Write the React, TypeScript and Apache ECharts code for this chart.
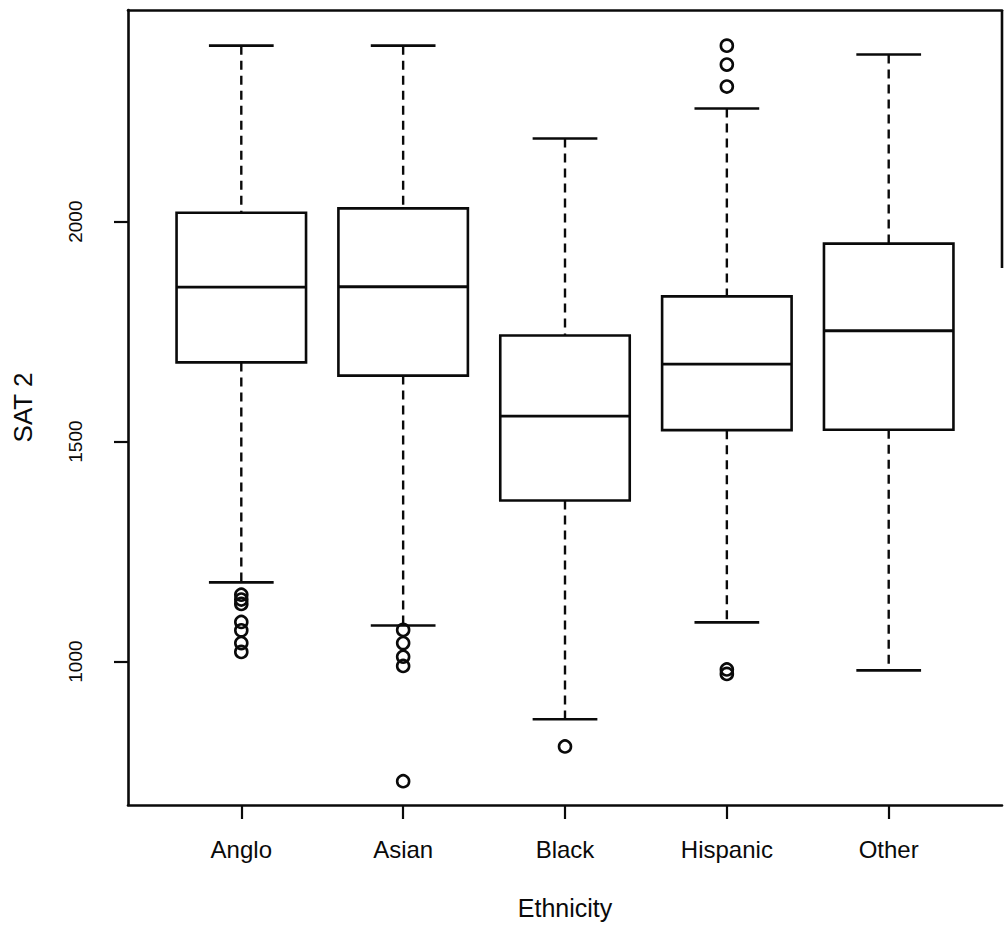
import React, { useEffect, useRef } from "react";
import * as echarts from "echarts";

// Groups on the horizontal axis
const categories = ["Anglo", "Asian", "Black", "Hispanic", "Other"];

// Five-number summaries per group (SAT 2 score)
const lowerWhisker = [1180, 1082, 869, 1089, 980];
const firstQuartile = [1680, 1650, 1366, 1526, 1527];
const medians = [1851, 1852, 1558, 1676, 1752];
const thirdQuartile = [2020, 2030, 1741, 1830, 1950];
const upperWhisker = [2400, 2400, 2189, 2257, 2380];

// Points beyond the whiskers
const outliersAnglo = [1152, 1141, 1131, 1090, 1071, 1042, 1022];
const outliersAsian = [1072, 1042, 1011, 990, 728];
const outliersBlack = [807];
const outliersHispanic = [2400, 2357, 2307, 982, 972];
const outliersOther: number[] = [];

const yTicks = [1000, 1500, 2000];
const yMin = 674;
const yMax = 2481;

const FONT = "'Liberation Sans', Arial, Helvetica, sans-serif";
const INK = "#0a0a0a";

export default function App() {
  const ref = useRef<HTMLDivElement>(null);

  useEffect(() => {
    document.body.style.margin = "0";
    if (!ref.current) return;
    const chart = echarts.init(ref.current, null, { renderer: "svg" });

    const boxData = categories.map((_, i) => [
      i + 1,
      lowerWhisker[i],
      firstQuartile[i],
      medians[i],
      thirdQuartile[i],
      upperWhisker[i],
    ]);

    const outlierGroups = [
      outliersAnglo,
      outliersAsian,
      outliersBlack,
      outliersHispanic,
      outliersOther,
    ];
    const outlierData: number[][] = [];
    outlierGroups.forEach((vals, i) => {
      vals.forEach((v) => outlierData.push([i + 1, v]));
    });

    const positions = categories.map((_, i) => i + 1);

    chart.setOption({
      animation: false,
      backgroundColor: "#fff",
      grid: { left: 128, right: 3, top: 10, bottom: 126 },
      xAxis: [
        {
          type: "value",
          min: 0.3,
          max: 5.7,
          position: "bottom",
          name: "Ethnicity",
          nameLocation: "middle",
          nameGap: 90,
          nameTextStyle: { fontFamily: FONT, fontSize: 25, color: INK },
          axisLine: { show: true, lineStyle: { color: INK, width: 2.6 } },
          axisTick: {
            show: true,
            customValues: positions,
            length: 14,
            lineStyle: { color: INK, width: 2.2 },
          },
          axisLabel: {
            show: true,
            customValues: positions,
            formatter: (v: number) => categories[Math.round(v) - 1] ?? "",
            fontFamily: FONT,
            fontSize: 24,
            color: INK,
            margin: 32,
          },
          splitLine: { show: false },
        },
        {
          type: "value",
          min: 0.3,
          max: 5.7,
          position: "top",
          axisLine: { show: true, lineStyle: { color: INK, width: 2.6 } },
          axisTick: { show: false },
          axisLabel: { show: false },
          splitLine: { show: false },
        },
      ],
      yAxis: {
        type: "value",
        min: yMin,
        max: yMax,
        name: "SAT 2",
        nameLocation: "middle",
        nameRotate: 90,
        nameGap: 92,
        nameTextStyle: { fontFamily: FONT, fontSize: 26, color: INK },
        axisLine: { show: true, lineStyle: { color: INK, width: 2.6 } },
        axisTick: {
          show: true,
          customValues: yTicks,
          length: 14,
          lineStyle: { color: INK, width: 2.2 },
        },
        axisLabel: {
          show: true,
          customValues: yTicks,
          formatter: (v: number) => String(v),
          rotate: 90,
          fontFamily: FONT,
          fontSize: 19,
          color: INK,
          margin: 43,
        },
        splitLine: { show: false },
      },
      graphic: [
        {
          type: "line",
          shape: { x1: 1002, y1: 10, x2: 1002, y2: 268 },
          style: { stroke: INK, lineWidth: 2.6 },
        },
      ],
      series: [
        {
          type: "custom",
          xAxisIndex: 0,
          data: boxData,
          renderItem: (_params: any, api: any) => {
            const x = api.value(0);
            const lo = api.coord([x, api.value(1)]);
            const q1 = api.coord([x, api.value(2)]);
            const md = api.coord([x, api.value(3)]);
            const q3 = api.coord([x, api.value(4)]);
            const hi = api.coord([x, api.value(5)]);
            const cx = lo[0];
            const halfBox = api.size([0.4, 0])[0];
            const halfCap = api.size([0.2, 0])[0];
            const solid = { stroke: INK, lineWidth: 2.6, fill: null };
            const dashed = { stroke: INK, lineWidth: 2.4, lineDash: [9, 6] };
            return {
              type: "group",
              children: [
                { type: "line", shape: { x1: cx, y1: hi[1], x2: cx, y2: q3[1] }, style: dashed },
                { type: "line", shape: { x1: cx, y1: q1[1], x2: cx, y2: lo[1] }, style: dashed },
                { type: "line", shape: { x1: cx - halfCap, y1: hi[1], x2: cx + halfCap, y2: hi[1] }, style: solid },
                { type: "line", shape: { x1: cx - halfCap, y1: lo[1], x2: cx + halfCap, y2: lo[1] }, style: solid },
                {
                  type: "rect",
                  shape: { x: cx - halfBox, y: q3[1], width: halfBox * 2, height: q1[1] - q3[1] },
                  style: { stroke: INK, lineWidth: 2.6, fill: "#fff" },
                },
                { type: "line", shape: { x1: cx - halfBox, y1: md[1], x2: cx + halfBox, y2: md[1] }, style: { stroke: INK, lineWidth: 2.8 } },
              ],
            };
          },
          z: 2,
        },
        {
          type: "scatter",
          xAxisIndex: 0,
          data: outlierData,
          symbol: "circle",
          symbolSize: 12,
          itemStyle: { color: "rgba(0,0,0,0)", borderColor: INK, borderWidth: 2.6, opacity: 1 },
          z: 3,
        },
      ],
    });

    return () => chart.dispose();
  }, []);

  return <div ref={ref} style={{ width: 1005, height: 931 }} />;
}
